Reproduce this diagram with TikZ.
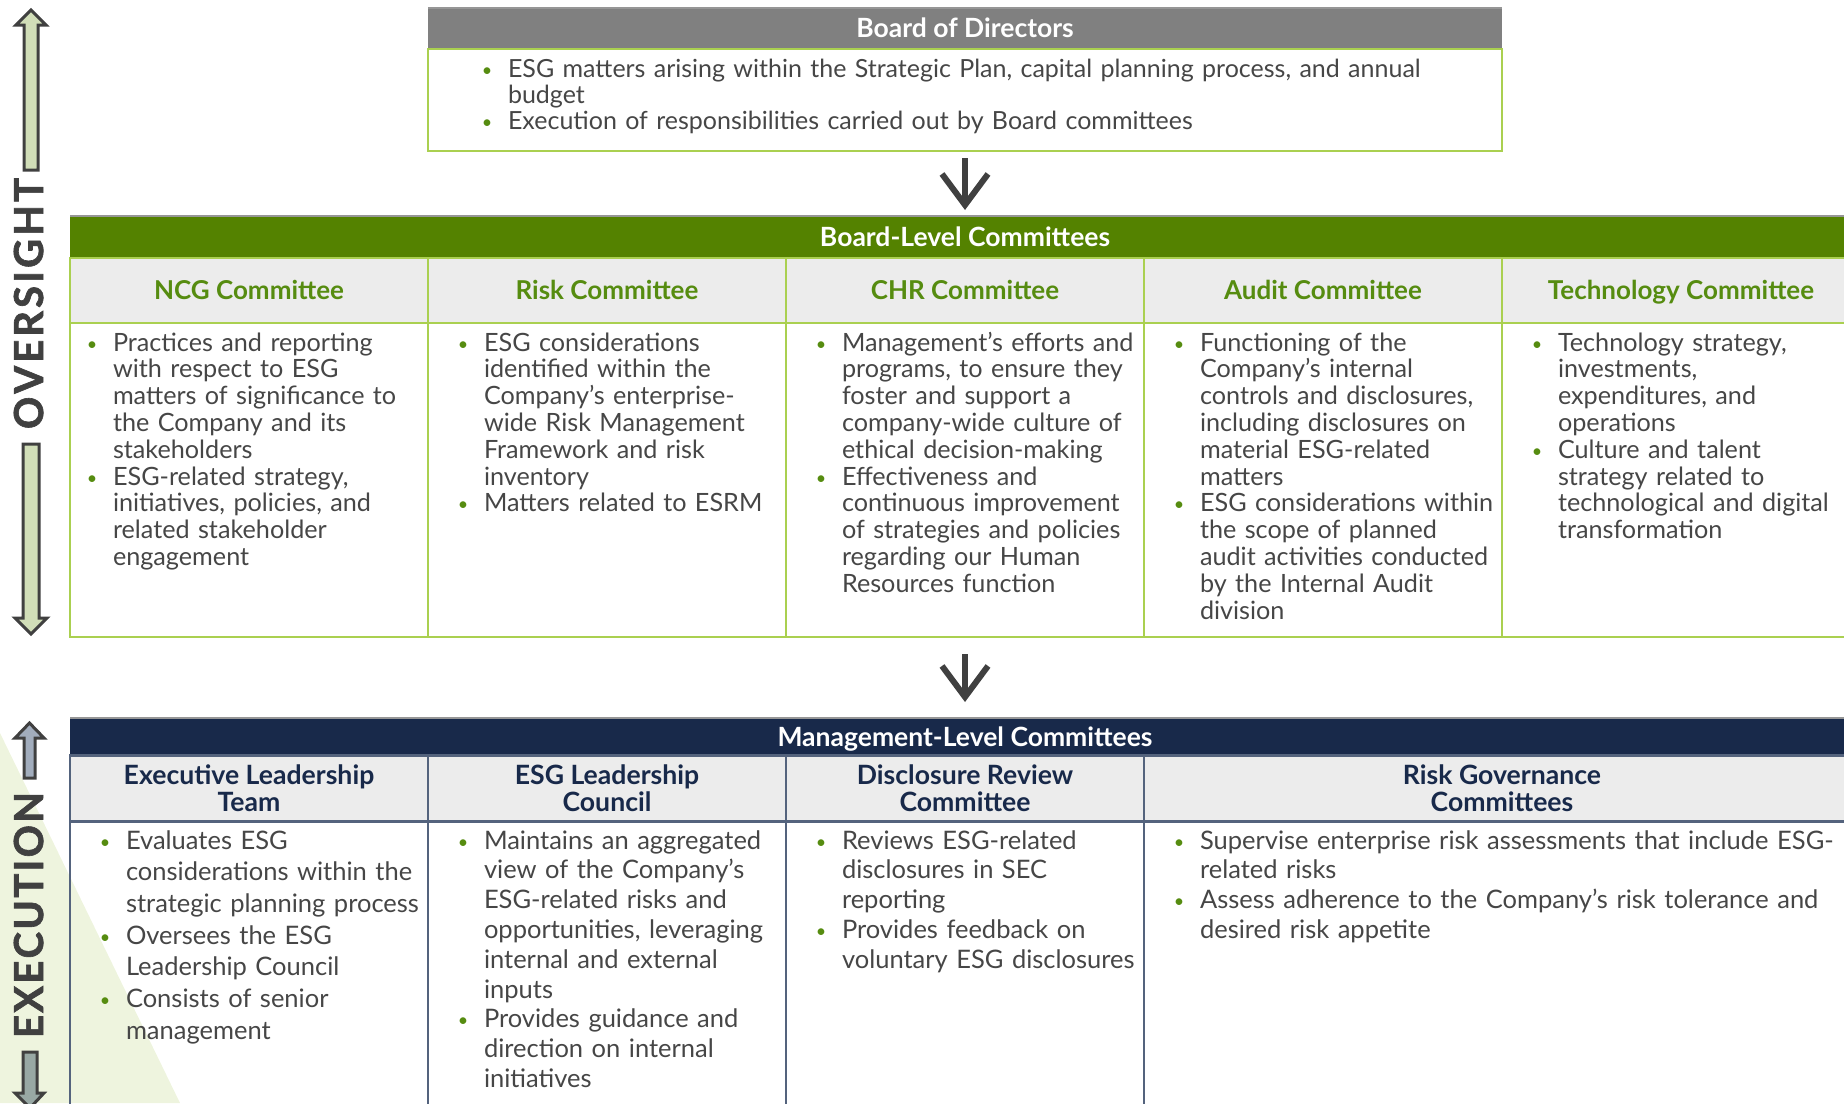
\documentclass[tikz,border=0pt]{standalone}
\usepackage{fontspec}
\setmainfont{Lato}
\usetikzlibrary{arrows.meta}

\definecolor{bodgray}{RGB}{128,128,128}
\definecolor{bandedge}{RGB}{150,150,150}
\definecolor{blgreen}{RGB}{84,130,0}
\definecolor{hdrgreen}{RGB}{86,140,16}
\definecolor{lime}{RGB}{170,208,80}
\definecolor{cellgray}{RGB}{236,236,236}
\definecolor{navy}{RGB}{24,41,74}
\definecolor{slate}{RGB}{84,99,125}
\definecolor{bodytext}{RGB}{70,70,70}
\definecolor{bulgreen}{RGB}{86,140,16}
\definecolor{darkline}{RGB}{64,64,64}
\definecolor{overfill}{RGB}{209,222,184}
\definecolor{exectop}{RGB}{162,173,189}
\definecolor{execbot}{RGB}{152,168,164}
\definecolor{washgreen}{RGB}{238,244,222}

\newcommand\bodyfont{\fontsize{25.2}{26.8}\selectfont}
\newcommand\mgmtfont{\fontsize{25.5}{29.8}\selectfont}
\newcommand\mgmtfontwide{\fontsize{25.5}{31.7}\selectfont}
\newcommand\titlefont{\fontsize{26.5}{28}\selectfont\bfseries}
\newcommand\hdrfont{\fontsize{26}{27}\selectfont\bfseries}
\newcommand\navyhdrfont{\fontsize{26.6}{27}\selectfont\bfseries}
\newcommand\sidefont{\fontsize{40}{40}\selectfont\bfseries\addfontfeatures{FakeBold=1.6}}
\newcommand\bulletmark{\textcolor{bulgreen}{\raisebox{1pt}{\fontsize{18}{18}\selectfont\textbullet}}}
% start of one bulleted paragraph with a hanging indent; lines are broken with \newline
% and every paragraph is closed with \par inside the node text
\newcommand\bitem{\hangindent=21pt\hangafter=1\noindent\makebox[21pt][l]{\makebox[0pt]{\bulletmark}}}

\begin{document}
\begin{tikzpicture}[x=1pt,y=-1pt,
  band/.style={minimum width=1790pt, inner sep=0pt, outer sep=0pt, text=white, font=\titlefont, text height=20pt, text depth=2pt},
  greenhdr/.style={fill=cellgray, draw=lime, line width=2.4pt, minimum height=65pt, inner sep=0pt, outer sep=0pt, text=hdrgreen, font=\hdrfont, text height=20pt, text depth=2pt},
  greenbody/.style={draw=lime, line width=2.4pt, minimum height=314pt, inner sep=0pt, outer sep=0pt},
  navyhdr/.style={fill=cellgray, draw=slate, line width=2.4pt, minimum height=66pt, inner sep=0pt, outer sep=0pt, text=navy, font=\navyhdrfont, align=center},
  navybody/.style={draw=slate, line width=2.4pt, minimum height=300pt, inner sep=0pt, outer sep=0pt},
  bodytxt/.style={anchor=base west, text width=1000pt, inner sep=0pt, outer sep=0pt, text=bodytext, font=\bodyfont},
  conn/.style={draw=darkline, line width=6pt, -{Straight Barb[length=31pt,width=46pt]}},
  sidearrow/.style={draw=darkline, line width=3pt, line join=miter},
  sidelabel/.style={rotate=90, anchor=base, inner sep=0pt, text=darkline, font=\sidefont},
]
\useasboundingbox (0,0) rectangle (1844,1103);
\clip (0,0) rectangle (1844,1103);

% pale wash in the lower left corner
\fill[washgreen] (0,733) -- (180,1103) -- (0,1103) -- cycle;

% ---------- Board of Directors ----------
\node[band, minimum width=1074pt, minimum height=41pt, fill=bodgray] (bodtitle) at (965,28.5) {Board of Directors};
\draw[bandedge, line width=1.5pt] (bodtitle.north west) -- (bodtitle.north east);
\node[draw=lime, line width=2.4pt, minimum width=1074pt, minimum height=102pt, inner sep=0pt, outer sep=0pt] (bodbody) at (965,100) {};
\node[bodytxt, font=\fontsize{25}{26}\selectfont] (bodtxt) at (487,77) {%
  \bitem ESG matters arising within the Strategic Plan, capital planning process, and annual\newline budget\par
  \bitem Execution of responsibilities carried out by Board committees\par};

% ---------- Board-Level Committees ----------
\node[band, minimum height=42pt, fill=blgreen] (blc) at (965,237) {Board-Level Committees};
\draw[bandedge, line width=1.5pt] (blc.north west) -- (blc.north east);

\node[greenhdr, minimum width=358pt] (ncgh) at (249,290.5) {NCG Committee};
\node[greenhdr, minimum width=358pt] (riskh) at (607,290.5) {Risk Committee};
\node[greenhdr, minimum width=358pt] (chrh) at (965,290.5) {CHR Committee};
\node[greenhdr, minimum width=358pt] (audh) at (1323,290.5) {Audit Committee};
\node[greenhdr, minimum width=358pt] (tech) at (1681,290.5) {Technology Committee};

\node[greenbody, minimum width=358pt] (ncgb) at (249,480) {};
\node[greenbody, minimum width=358pt] (riskb) at (607,480) {};
\node[greenbody, minimum width=358pt] (chrb) at (965,480) {};
\node[greenbody, minimum width=358pt] (audb) at (1323,480) {};
\node[greenbody, minimum width=358pt] (tecb) at (1681,480) {};

\node[bodytxt] (ncgt) at (92,351) {%
  \bitem Practices and reporting\newline with respect to ESG\newline matters of significance to\newline the Company and its\newline stakeholders\par
  \bitem ESG-related strategy,\newline initiatives, policies, and\newline related stakeholder\newline engagement\par};
\node[bodytxt] (riskt) at (463,351) {%
  \bitem ESG considerations\newline identified within the\newline Company’s enterprise-\newline wide Risk Management\newline Framework and risk\newline inventory\par
  \bitem Matters related to ESRM\par};
\node[bodytxt] (chrt) at (821,351) {%
  \bitem Management’s efforts and\newline programs, to ensure they\newline foster and support a\newline company-wide culture of\newline ethical decision-making\par
  \bitem Effectiveness and\newline continuous improvement\newline of strategies and policies\newline regarding our Human\newline Resources function\par};
\node[bodytxt] (audt) at (1179,351) {%
  \bitem Functioning of the\newline Company’s internal\newline controls and disclosures,\newline including disclosures on\newline material ESG-related\newline matters\par
  \bitem ESG considerations within\newline the scope of planned\newline audit activities conducted\newline by the Internal Audit\newline division\par};
\node[bodytxt] (tect) at (1537,351) {%
  \bitem Technology strategy,\newline investments,\newline expenditures, and\newline operations\par
  \bitem Culture and talent\newline strategy related to\newline technological and digital\newline transformation\par};

% ---------- Management-Level Committees ----------
\node[band, minimum height=38pt, fill=navy] (mlc) at (965,737) {Management-Level Committees};
\draw[bandedge, line width=1.5pt] (mlc.north west) -- (mlc.north east);

\node[navyhdr, minimum width=358pt] (elth) at (249,788.5) {Executive Leadership\\Team};
\node[navyhdr, minimum width=358pt] (eslh) at (607,788.5) {ESG Leadership\\Council};
\node[navyhdr, minimum width=358pt] (drch) at (965,788.5) {Disclosure Review\\Committee};
\node[navyhdr, minimum width=716pt] (rgch) at (1502,788.5) {Risk Governance\\Committees};

\node[navybody, minimum width=358pt] (eltb) at (249,971.5) {};
\node[navybody, minimum width=358pt] (eslb) at (607,971.5) {};
\node[navybody, minimum width=358pt] (drcb) at (965,971.5) {};
\node[navybody, minimum width=716pt] (rgcb) at (1502,971.5) {};

\node[bodytxt, font=\mgmtfontwide] (eltt) at (105,849) {%
  \bitem Evaluates ESG\newline considerations within the\newline strategic planning process\par
  \bitem Oversees the ESG\newline Leadership Council\par
  \bitem Consists of senior\newline management\par};
\node[bodytxt, font=\mgmtfont] (eslt) at (463,849) {%
  \bitem Maintains an aggregated\newline view of the Company’s\newline ESG-related risks and\newline opportunities, leveraging\newline internal and external\newline inputs\par
  \bitem Provides guidance and\newline direction on internal\newline initiatives\par};
\node[bodytxt, font=\mgmtfont] (drct) at (821,849) {%
  \bitem Reviews ESG-related\newline disclosures in SEC\newline reporting\par
  \bitem Provides feedback on\newline voluntary ESG disclosures\par};
\node[bodytxt, font=\mgmtfont] (rgct) at (1179,849) {%
  \bitem Supervise enterprise risk assessments that include ESG-\newline related risks\par
  \bitem Assess adherence to the Company’s risk tolerance and\newline desired risk appetite\par};

% ---------- flow between the levels ----------
\draw[conn, shorten <=7pt, shorten >=6pt] (bodbody.south) -- (blc.north);
\draw[conn, shorten <=17pt, shorten >=16pt] (chrb.south) -- (mlc.north);

% ---------- side markers ----------
\filldraw[sidearrow, fill=overfill] (31,10) -- (46,25) -- (38,25) -- (38,170) -- (24,170) -- (24,25) -- (16,25) -- cycle;
\filldraw[sidearrow, fill=overfill] (23,444) -- (39,444) -- (39,618) -- (47,618) -- (31,634) -- (15,618) -- (23,618) -- cycle;
\node[sidelabel] (oversight) at (43,303.5) {\makebox[251pt][s]{O\hfill V\hfill E\hfill R\hfill S\hfill I\hfill G\hfill H\hfill T}};

\filldraw[sidearrow, fill=exectop] (29.5,723) -- (44,738) -- (35,738) -- (35,778) -- (24,778) -- (24,738) -- (15,738) -- cycle;
\filldraw[sidearrow, fill=execbot] (23,1052) -- (37,1052) -- (37,1093) -- (44,1093) -- (30,1108) -- (15,1093) -- (23,1093) -- cycle;
\node[sidelabel] (execution) at (43,915) {\makebox[246pt][s]{E\hfill X\hfill E\hfill C\hfill U\hfill T\hfill I\hfill O\hfill N}};
\end{tikzpicture}
\end{document}
